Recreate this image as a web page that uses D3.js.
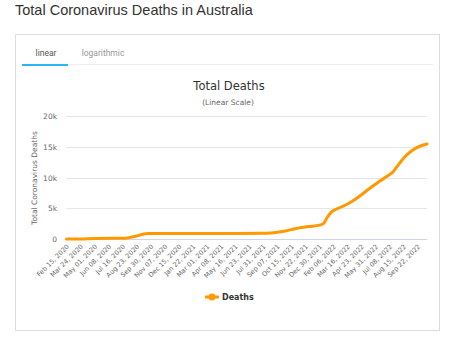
<!DOCTYPE html>
<html><head><meta charset="utf-8">
<script src="https://cdn.jsdelivr.net/npm/d3@7"></script>
<style>
body{margin:0;background:#fff;font-family:"Liberation Sans",Arial,sans-serif;}
svg{display:block;}
</style></head>
<body><svg id="c" width="454" height="341"></svg>
<script>
const dates = ["2020-02-15","2020-03-24","2020-05-01","2020-06-08","2020-07-16","2020-08-01","2020-08-20","2020-09-08","2020-09-25","2020-10-15","2020-11-07","2021-01-22","2021-05-16","2021-07-31","2021-08-20","2021-09-07","2021-09-25","2021-10-15","2021-11-05","2021-11-22","2021-12-10","2021-12-30","2022-01-10","2022-01-20","2022-02-01","2022-02-19","2022-03-16","2022-04-14","2022-05-10","2022-06-06","2022-07-01","2022-07-17","2022-08-01","2022-08-17","2022-09-05","2022-09-22","2022-10-17"];
const deaths = [0,12,93,102,116,210,440,780,880,905,907,909,910,921,985,1100,1270,1530,1810,1960,2080,2260,2500,3500,4400,5000,5700,6800,8000,9200,10200,10900,12100,13300,14300,14950,15450];
const tickLabels = ["Feb 15, 2020","Mar 24, 2020","May 01, 2020","Jun 08, 2020","Jul 16, 2020","Aug 23, 2020","Sep 30, 2020","Nov 07, 2020","Dec 15, 2020","Jan 22, 2021","Mar 01, 2021","Apr 08, 2021","May 16, 2021","Jun 23, 2021","Jul 31, 2021","Sep 07, 2021","Oct 15, 2021","Nov 22, 2021","Dec 30, 2021","Feb 06, 2022","Mar 16, 2022","Apr 23, 2022","May 31, 2022","Jul 08, 2022","Aug 15, 2022","Sep 22, 2022"];
const yTicks = [0,5000,10000,15000,20000];
const yTickLabels = ["0","5k","10k","15k","20k"];

const parse = d3.timeParse("%Y-%m-%d");
const fmtIn = d3.timeParse("%b %d, %Y");
const data = dates.map((d,i)=>({d:parse(d), v:deaths[i]}));

const svg = d3.select("#c");
// page title
svg.append("text").attr("x",15).attr("y",15).attr("font-size",14.5).attr("fill","#333")
  .attr("font-family","'Liberation Sans',Arial,sans-serif").text("Total Coronavirus Deaths in Australia");
// card
svg.append("rect").attr("x",15.5).attr("y",34.5).attr("width",424).attr("height",296)
  .attr("fill","#fff").attr("stroke","#dddddd");
// tabs
svg.append("line").attr("x1",22).attr("x2",433).attr("y1",64.5).attr("y2",64.5).attr("stroke","#eeeeee");
svg.append("rect").attr("x",22).attr("y",64).attr("width",46).attr("height",2).attr("fill","#29b6f6");
svg.append("text").attr("x",46).attr("y",56).attr("text-anchor","middle").attr("font-size",8.5).attr("fill","#555")
  .attr("font-family","Roboto,sans-serif").text("linear");
svg.append("text").attr("x",103).attr("y",56).attr("text-anchor","middle").attr("font-size",8.5).attr("fill","#999")
  .attr("font-family","Roboto,sans-serif").text("logarithmic");

const hf = "'DejaVu Sans',sans-serif";
svg.append("text").attr("x",229).attr("y",90).attr("text-anchor","middle").attr("font-size",11.5).attr("fill","#333")
  .attr("font-family",hf).text("Total Deaths");
svg.append("text").attr("x",228).attr("y",105).attr("text-anchor","middle").attr("font-size",7.5).attr("fill","#666")
  .attr("font-family",hf).text("(Linear Scale)");

const x = d3.scaleTime().domain([parse("2020-02-15"), parse("2022-10-17")]).range([66.5,427]);
const y = d3.scaleLinear().domain([0,20000]).range([239,116]);

// grid
const g = svg.append("g");
g.selectAll("line.grid").data(yTicks.slice(1)).join("line")
  .attr("x1",66).attr("x2",427).attr("y1",d=>Math.round(y(d))+0.5).attr("y2",d=>Math.round(y(d))+0.5)
  .attr("stroke","#e6e6e6");
g.append("line").attr("x1",66).attr("x2",427).attr("y1",239.5).attr("y2",239.5).attr("stroke","#ccd6eb");

// y labels
g.selectAll("text.yl").data(yTicks).join("text")
  .attr("x",57).attr("y",d=>y(d)+3).attr("text-anchor","end").attr("font-size",7.5).attr("fill","#666")
  .attr("font-family",hf).text((d,i)=>yTickLabels[i]);
svg.append("text").attr("transform","translate(37,178) rotate(-90)").attr("text-anchor","middle")
  .attr("font-size",7.5).attr("fill","#666").attr("font-family",hf).text("Total Coronavirus Deaths");

// x labels
g.selectAll("text.xl").data(tickLabels).join("text")
  .attr("transform",d=>`translate(${x(fmtIn(d))+3},247) rotate(-45)`)
  .attr("text-anchor","end").attr("font-size",6.5).attr("fill","#666").attr("font-family",hf).text(d=>d);

// line
const line = d3.line().x(d=>x(d.d)).y(d=>y(d.v)).curve(d3.curveMonotoneX);
svg.append("path").datum(data).attr("d",line).attr("fill","none").attr("stroke","#FF9900")
  .attr("stroke-width",3).attr("stroke-linejoin","round").attr("stroke-linecap","round");

// legend
svg.append("line").attr("x1",205).attr("x2",219).attr("y1",297).attr("y2",297).attr("stroke","#FF9900").attr("stroke-width",3);
svg.append("circle").attr("cx",212).attr("cy",297).attr("r",3.5).attr("fill","#FF9900");
svg.append("text").attr("x",222).attr("y",300).attr("font-size",8).attr("font-weight","bold").attr("fill","#333")
  .attr("font-family",hf).text("Deaths");
</script></body></html>
